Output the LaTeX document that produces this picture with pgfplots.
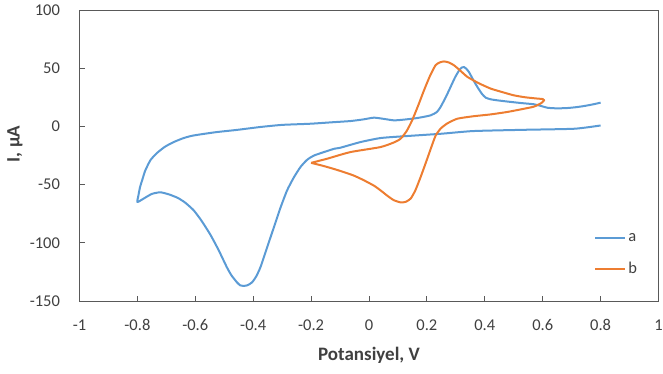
\documentclass[border=0pt]{standalone}
\usepackage{pgfplots}
\pgfplotsset{compat=1.18}
\usepackage{fontspec}
\setmainfont{Carlito}
\definecolor{cblue}{HTML}{5B9BD5}
\definecolor{corange}{HTML}{ED7D31}
\definecolor{txt}{HTML}{404040}
\definecolor{axgray}{HTML}{595959}
\begin{document}
\begin{tikzpicture}
\useasboundingbox (-79.5pt,-73pt) rectangle (583.5pt,301pt);
\begin{axis}[
  scale only axis, width=579pt, height=291pt,
  xmin=-1, xmax=1, ymin=-150, ymax=100,
  xtick={-1,-0.8,...,1.01}, ytick={-150,-100,...,100},
  /pgf/number format/assume math mode=true,
  xticklabel style={/pgf/number format/fixed, font=\fontsize{16.5}{18}\selectfont, text=txt, yshift=-15pt},
  yticklabel style={font=\fontsize{16.5}{18}\selectfont, text=txt, xshift=-16pt},
  axis line style={axgray, line width=0.9pt},
  tick style={axgray, line width=0.9pt},
  major tick length=5pt,
  tick align=inside,
  xtick pos=bottom, ytick pos=left,
  xlabel={\textbf{Potansiyel, V}}, ylabel={\textbf{I, µA}},
  label style={font=\fontsize{19}{21}\selectfont, text=txt},
  xlabel style={at={(axis description cs:0.5,-0.186)}, anchor=center},
  ylabel style={at={(axis description cs:-0.1115,0.54)}, anchor=center, rotate=0},
  legend style={draw=none, fill=none, at={(axis description cs:0.928,0.16)}, anchor=center,
    font=\fontsize{16.5}{18}\selectfont, text=txt, row sep=15pt},
  legend cell align=left,
  legend image code/.code={\draw[#1, line width=2pt] (0pt,0pt) -- (30pt,0pt);},
  every axis plot/.append style={smooth, tension=0.35, line width=2pt, line join=round},
]
\addplot[cblue] coordinates {
(0.80,0.8) (0.71,-2) (0.54,-2.9) (0.36,-4) (0.25,-6.3) (0.13,-8.3) (0.04,-10) (-0.03,-13.5) (-0.10,-18.4) (-0.12,-19.2) (-0.19,-25) (-0.215,-29) (-0.237,-35) (-0.26,-44) (-0.283,-55) (-0.306,-70) (-0.329,-87) (-0.352,-104) (-0.375,-121) (-0.39,-129) (-0.404,-134) (-0.42,-136.5) (-0.433,-137) (-0.445,-136.5) (-0.456,-134) (-0.475,-128) (-0.491,-121) (-0.52,-106) (-0.548,-93) (-0.58,-80.5) (-0.606,-72) (-0.635,-65.5) (-0.66,-61.5) (-0.69,-58.5) (-0.721,-56.6) (-0.75,-58) (-0.775,-61.5) (-0.80,-65) (-0.797,-60) (-0.791,-52.3) (-0.782,-45) (-0.773,-38) (-0.755,-29) (-0.733,-23) (-0.705,-17.5) (-0.675,-13.5) (-0.64,-10) (-0.606,-7.8) (-0.53,-5) (-0.456,-3) (-0.375,-0.5) (-0.3,1.3) (-0.202,2.3) (-0.13,3.5) (-0.064,4.6) (-0.02,6) (0.017,7.5) (0.05,6.5) (0.086,5.2) (0.12,5.8) (0.167,7.2) (0.213,9.5) (0.235,12.5) (0.247,16.6) (0.265,25) (0.282,34) (0.297,42) (0.311,48) (0.32,50.5) (0.328,51) (0.336,49.5) (0.345,46.8) (0.36,40) (0.374,34) (0.39,28) (0.403,24.7) (0.42,23.3) (0.443,22.4) (0.48,21.3) (0.524,20.1) (0.57,19) (0.595,17.5) (0.617,16) (0.65,15.5) (0.686,15.8) (0.715,16.5) (0.743,17.5) (0.775,19) (0.80,20.4)
};
\addlegendentry{a}
\addplot[corange] coordinates {
(-0.2,-31.3) (-0.16,-33.8) (-0.122,-36.5) (-0.09,-39) (-0.053,-42.2) (-0.02,-46) (0.017,-50.9) (0.04,-55) (0.063,-59.5) (0.085,-63.3) (0.109,-65.3) (0.127,-64.8) (0.144,-62) (0.16,-55) (0.178,-43.7) (0.198,-30) (0.215,-18) (0.23,-8) (0.247,-2) (0.27,2.5) (0.305,6.6) (0.36,8.7) (0.42,10.3) (0.48,12.5) (0.536,15.2) (0.57,17) (0.595,20) (0.605,22.5) (0.6,23.5) (0.582,23.9) (0.54,25) (0.5,26.7) (0.46,29.5) (0.42,32.5) (0.38,37) (0.34,42.5) (0.315,48) (0.293,52.6) (0.275,55) (0.259,55.8) (0.245,55) (0.23,52.6) (0.21,43) (0.19,31) (0.17,18) (0.149,5.2) (0.13,-4) (0.109,-10.6) (0.086,-13.8) (0.039,-17.8) (-0.065,-22.1) (-0.145,-27.8) (-0.2,-31.3)
};
\addlegendentry{b}
\end{axis}
\end{tikzpicture}
\end{document}
